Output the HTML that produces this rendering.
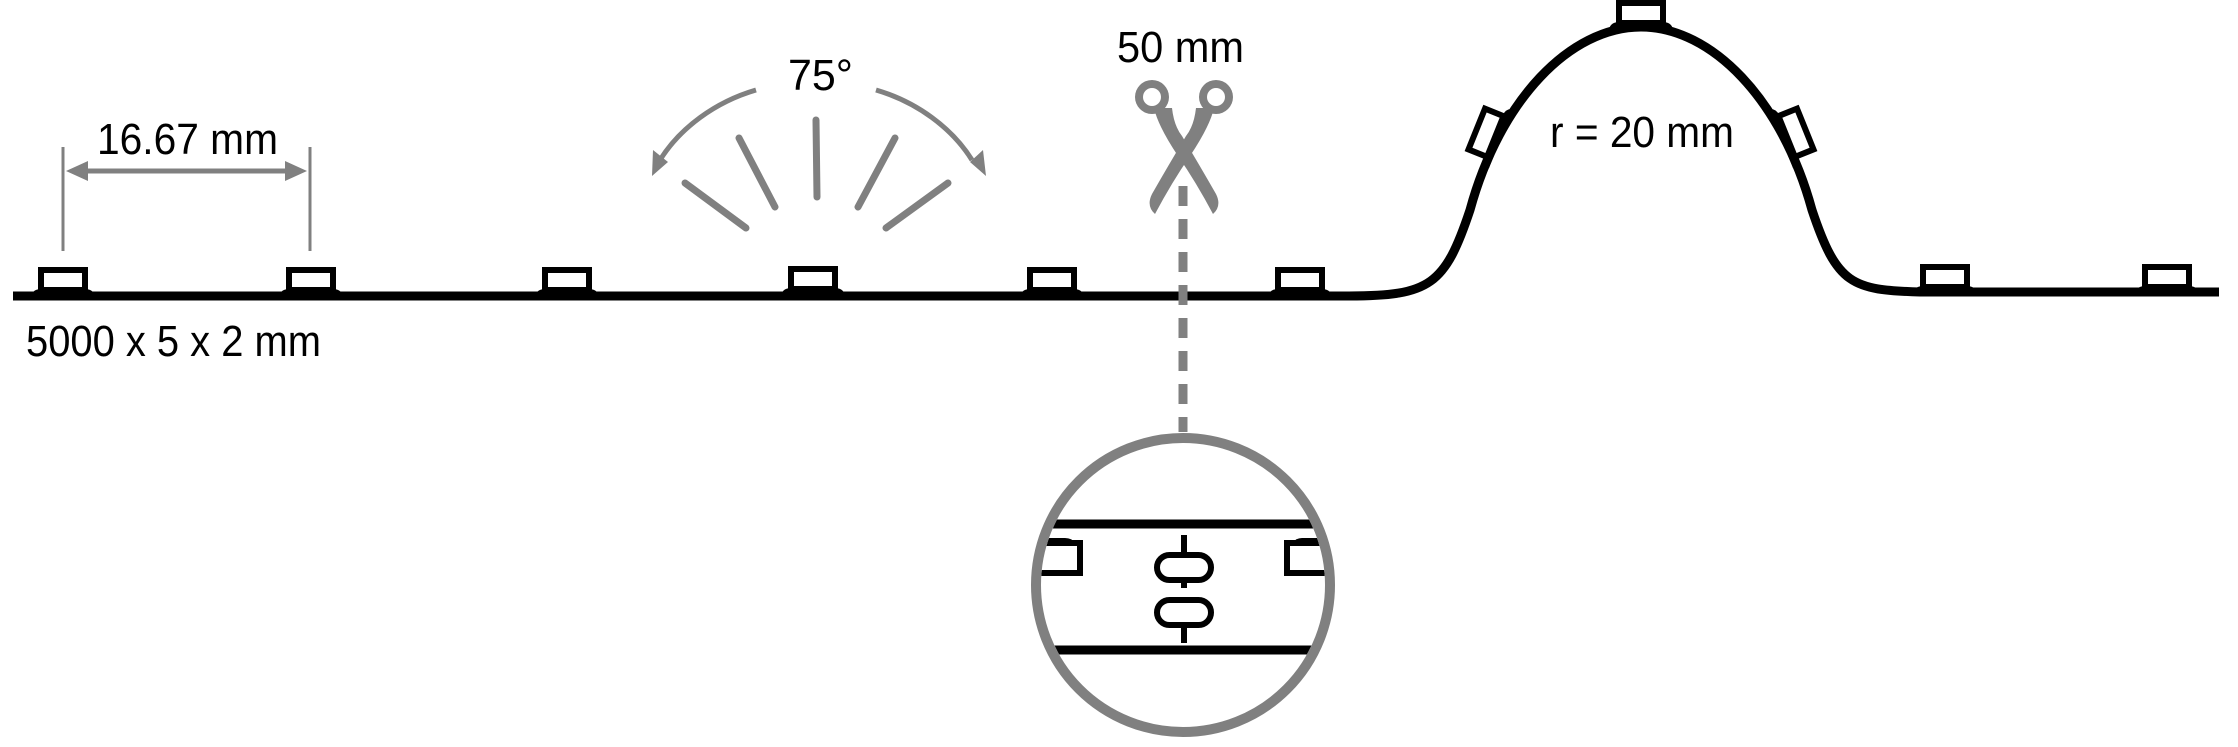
<!DOCTYPE html>
<html><head><meta charset="utf-8"><style>
html,body{margin:0;padding:0;background:#fff;}
svg{display:block;}
text{font-family:"Liberation Sans",sans-serif;fill:#000;}
</style></head><body>
<svg width="2238" height="747" viewBox="0 0 2238 747" xmlns="http://www.w3.org/2000/svg">
<defs>
<g id="led">
<rect x="-22" y="-24" width="44" height="20" fill="#fff" stroke="#000" stroke-width="6"/>
<path d="M-32 2 Q-30 -5 -22 -5 L22 -5 Q30 -5 32 2 Z" fill="#000"/>
</g>
<clipPath id="cc"><circle cx="1183" cy="585" r="142"/></clipPath>
</defs>

<!-- strip -->
<path d="M13 296 L1349 296 C1430 296 1445 285 1470 210 C1500 100 1570 27 1641 27 C1712 27 1782 100 1812 210 C1837 285 1852 290 1920 292 L2219 292" fill="none" stroke="#000" stroke-width="9"/>
<use href="#led" transform="translate(63,294)"/>
<use href="#led" transform="translate(311,294)"/>
<use href="#led" transform="translate(567,294)"/>
<use href="#led" transform="translate(813,293)"/>
<use href="#led" transform="translate(1052,294)"/>
<use href="#led" transform="translate(1300,294)"/>
<use href="#led" transform="translate(1945,291)"/>
<use href="#led" transform="translate(2167,291)"/>
<use href="#led" transform="translate(1641,27)"/>
<use href="#led" transform="translate(1499,138) rotate(-68)"/>
<use href="#led" transform="translate(1783,138) rotate(68)"/>

<!-- texts -->
<text x="26" y="356" font-size="44" textLength="295" lengthAdjust="spacingAndGlyphs">5000 x 5 x 2 mm</text>
<text x="97" y="154" font-size="44" textLength="181" lengthAdjust="spacingAndGlyphs">16.67 mm</text>
<text x="788" y="90" font-size="44" textLength="65" lengthAdjust="spacingAndGlyphs">75°</text>
<text x="1117" y="62" font-size="44" textLength="127" lengthAdjust="spacingAndGlyphs">50 mm</text>
<text x="1550" y="147" font-size="44" textLength="184" lengthAdjust="spacingAndGlyphs">r = 20 mm</text>

<!-- dimension -->
<g stroke="#808080" fill="none">
<line x1="63" y1="147" x2="63" y2="251" stroke-width="3"/>
<line x1="310" y1="147" x2="310" y2="251" stroke-width="3"/>
<line x1="80" y1="171" x2="293" y2="171" stroke-width="5"/>
</g>
<path d="M66 171 L88 161 L88 181 Z M307 171 L285 161 L285 181 Z" fill="#808080"/>

<!-- fan -->
<g stroke="#808080" stroke-width="7" stroke-linecap="round" fill="none">
<line x1="816" y1="120" x2="817" y2="197"/>
<line x1="739" y1="138" x2="775" y2="207"/>
<line x1="685" y1="183" x2="746" y2="228"/>
<line x1="895" y1="138" x2="858" y2="207"/>
<line x1="948" y1="183" x2="886" y2="228"/>
<path d="M756 90 C715 102 680 128 660 160" stroke-width="5" stroke-linecap="butt"/>
<path d="M876 90 C917 102 952 128 972 160" stroke-width="5" stroke-linecap="butt"/>
</g>
<path d="M652 176 L653 150 L668 162 Z M986 176 L970 162 L983 150 Z" fill="#808080"/>

<!-- scissors -->
<g fill="#808080">
<circle cx="1152" cy="97" r="17"/><circle cx="1216" cy="97" r="17"/>
<path d="M1154 108 L1172 108 Q1174 126 1182 136 Q1200 166 1216 194 Q1222 206 1213 214 Q1196 182 1178 156 Q1158 126 1154 108 Z"/>
<path d="M1214 108 L1196 108 Q1194 126 1186 136 Q1168 166 1152 194 Q1146 206 1155 214 Q1172 182 1190 156 Q1210 126 1214 108 Z"/>
</g>
<circle cx="1152" cy="97" r="9" fill="#fff"/><circle cx="1216" cy="97" r="9" fill="#fff"/>

<!-- dashed -->
<line x1="1183" y1="186" x2="1183" y2="432" stroke="#808080" stroke-width="9" stroke-dasharray="20 13"/>

<!-- detail circle -->
<g clip-path="url(#cc)">
<line x1="1030" y1="524" x2="1340" y2="524" stroke="#000" stroke-width="9"/>
<line x1="1030" y1="650" x2="1340" y2="650" stroke="#000" stroke-width="9"/>
<path d="M1040 543 L1080 543 L1080 573 L1040 573" fill="none" stroke="#000" stroke-width="6"/>
<path d="M1040 543 Q1045 538 1050 538 L1065 538 Q1072 538 1075 543" fill="#000"/>
<path d="M1330 543 L1287 543 L1287 573 L1330 573" fill="none" stroke="#000" stroke-width="6"/>
<path d="M1292 543 Q1296 538 1302 538 L1318 538 Q1325 538 1328 543" fill="#000"/>
</g>
<g stroke="#000" stroke-width="6" fill="none">
<line x1="1184" y1="535" x2="1184" y2="555"/>
<line x1="1184" y1="580" x2="1184" y2="588"/>
<line x1="1184" y1="625" x2="1184" y2="643"/>
<rect x="1157" y="555" width="54" height="25" rx="12.5"/>
<rect x="1157" y="600" width="54" height="25" rx="12.5"/>
</g>
<circle cx="1183" cy="585" r="147" fill="none" stroke="#808080" stroke-width="10"/>
</svg>
</body></html>
